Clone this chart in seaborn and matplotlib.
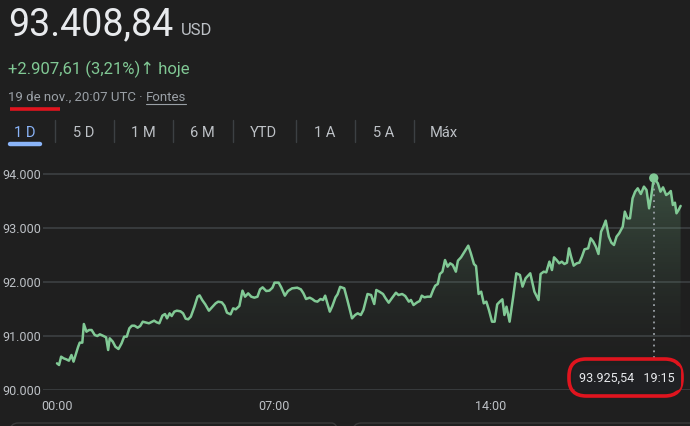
import matplotlib
matplotlib.use("Agg")
import matplotlib.pyplot as plt
import seaborn as sns
import numpy as np
from matplotlib.patches import FancyBboxPatch
from matplotlib.lines import Line2D

# ---------------- data ----------------
price_now = "93.408,84"
currency = "USD"
change_text = "+2.907,61 (3,21%)\u2191 hoje"
date_text = "19 de nov., 20:07 UTC \u00b7 "
sources_text = "Fontes"
tabs = ["1 D", "5 D", "1 M", "6 M", "YTD", "1 A", "5 A", "M\u00e1x"]
y_ticks = [90000, 91000, 92000, 93000, 94000]
y_tick_labels = ["90.000", "91.000", "92.000", "93.000", "94.000"]
x_ticks = [0, 420, 840]
x_tick_labels = ["00:00", "07:00", "14:00"]
hover_time = 1155
hover_price = 93925.54
hover_label = "93.925,54   19:15"

# minutes since 00:00 UTC
times = [
    0, 4, 8, 13, 18, 23, 28, 32, 36, 41,
    44, 49, 52, 57, 62, 67, 73, 78, 83, 90,
    95, 99, 102, 108, 113, 119, 125, 130, 135, 140,
    145, 150, 156, 161, 166, 171, 178, 184, 188, 193,
    198, 204, 209, 213, 218, 222, 227, 232, 239, 244,
    249, 254, 259, 266, 272, 276, 281, 287, 294, 300,
    307, 312, 319, 324, 329, 336, 341, 346, 353, 359,
    364, 370, 376, 382, 388, 393, 398, 405, 411, 417,
    421, 429, 434, 441, 447, 455, 465, 472, 477, 482,
    489, 494, 499, 504, 510, 515, 519, 523, 528, 533,
    539, 543, 548, 556, 562, 571, 577, 582, 588, 593,
    601, 608, 614, 618, 624, 631, 636, 642, 648, 656,
    661, 668, 674, 681, 685, 690, 697, 702, 706, 711,
    717, 723, 728, 732, 737, 741, 746, 751, 756, 761,
    766, 772, 776, 782, 788, 796, 801, 807, 811, 816,
    821, 826, 831, 836, 842, 847, 852, 857, 862, 866,
    870, 876, 883, 889, 896, 901, 907, 916, 924, 932,
    936, 942, 947, 953, 958, 962, 967, 972, 977, 982,
    987, 991, 995, 1000, 1006, 1011, 1016, 1021, 1028, 1033,
    1038, 1043, 1048, 1053, 1057, 1062, 1068, 1073, 1078, 1083,
    1088, 1095, 1099, 1104, 1109, 1114, 1119, 1124, 1130, 1136,
    1141, 1146, 1150, 1155, 1163, 1168, 1173, 1179, 1184, 1188,
    1192, 1196, 1199, 1203, 1207,
]
prices = [
    90494, 90463, 90617, 90586, 90568, 90543, 90648, 90525, 90648, 90802,
    90877, 90877, 91222, 91080, 91111, 91111, 91019, 91000, 91031, 91000,
    90975, 90741, 90957, 90895, 90802, 90759, 90864, 90988, 90988, 91142,
    91191, 91191, 91154, 91185, 91265, 91253, 91235, 91265, 91284, 91253,
    91235, 91377, 91407, 91327, 91420, 91370, 91451, 91469, 91457, 91420,
    91321, 91309, 91358, 91543, 91728, 91753, 91667, 91586, 91469, 91531,
    91605, 91636, 91623, 91562, 91432, 91401, 91512, 91494, 91556, 91840,
    91728, 91790, 91728, 91710, 91728, 91864, 91901, 91833, 91840, 91895,
    91988, 91988, 91901, 91747, 91833, 91883, 91895, 91864, 91790, 91685,
    91710, 91685, 91648, 91636, 91685, 91667, 91747, 91617, 91451, 91556,
    91716, 91772, 91910, 91883, 91667, 91327, 91389, 91420, 91389, 91482,
    91778, 91759, 91593, 91852, 91821, 91778, 91698, 91617, 91698, 91802,
    91759, 91778, 91741, 91636, 91667, 91574, 91623, 91648, 91747, 91716,
    91728, 91728, 91852, 91932, 91963, 92148, 92191, 92407, 92284, 92346,
    92315, 92191, 92395, 92457, 92549, 92673, 92531, 92333, 92296, 91778,
    91821, 91605, 91636, 91482, 91265, 91265, 91586, 91636, 91679, 91389,
    91543, 91265, 91728, 92161, 92130, 91914, 92068, 92161, 91821, 91667,
    92148, 92191, 92179, 92377, 92222, 92457, 92407, 92346, 92377, 92333,
    92358, 92623, 92469, 92303, 92346, 92358, 92469, 92605, 92623, 92809,
    92747, 92654, 92519, 92932, 93012, 93136, 92840, 92728, 92685, 92840,
    92901, 93025, 93303, 93179, 93179, 93549, 93673, 93735, 93630, 93766,
    93704, 93364, 93580, 93925.54, 93827, 93673, 93753, 93611, 93642, 93685,
    93426, 93469, 93272, 93334, 93408.84,
]
assert len(times) == len(prices)

# ---------------- style ----------------
BG = "#1f1f1f"
GRID = "#3c4043"
GREEN = "#81c995"
GREY = "#bdc1c6"
BLUE = "#8ab4f8"
RED = "#e0141e"

sns.set_theme(style="dark")
plt.rcParams["font.family"] = ["Roboto", "DejaVu Sans"]
plt.rcParams["figure.facecolor"] = BG
plt.rcParams["axes.facecolor"] = BG

W, H = 690, 426
fig = plt.figure(figsize=(W / 100, H / 100), dpi=100)


def fx(x):
    return x / W


def fy(y):
    return 1 - y / H


# axes geometry in pixels: left 43, right 690, top 160, bottom 390
ax_left, ax_right, ax_top, ax_bottom = 43, 690, 160, 390
ax = fig.add_axes([fx(ax_left), fy(ax_bottom), (ax_right - ax_left) / W,
                   (ax_bottom - ax_top) / H])
ax.set_facecolor(BG)

px_per_min = 31.0 / 60.0
x0_px = 57
xmin = (ax_left - x0_px) / px_per_min
xmax = (ax_right - x0_px) / px_per_min
px_per_val = 54.0 / 1000.0
ymin = 90000
ymax = 90000 + (ax_bottom - ax_top) / px_per_val
ax.set_xlim(xmin, xmax)
ax.set_ylim(ymin, ymax)

# gradient fill under the line
poly = ax.fill_between(times, prices, ymin, color="none", lw=0)
grad = np.zeros((256, 1, 4))
rgb = matplotlib.colors.to_rgb(GREEN)
t = np.linspace(1, 0, 256)  # top -> bottom
grad[:, 0, 0] = rgb[0]
grad[:, 0, 1] = rgb[1]
grad[:, 0, 2] = rgb[2]
grad[:, 0, 3] = 0.32 * np.clip((t * (ymax - ymin) - 300) / (ymax - ymin - 300), 0, 1) ** 1.6
im = ax.imshow(grad, extent=[xmin, xmax, ymin, ymax], aspect="auto",
               origin="upper", zorder=1)
im.set_clip_path(poly.get_paths()[0], transform=ax.transData)

# gridlines
for v in y_ticks:
    ax.axhline(v, color=GRID, lw=1.2, zorder=0.5)

sns.lineplot(x=times, y=prices, ax=ax, color=GREEN, linewidth=1.8, zorder=3)

# hover line & marker
hover_bottom = 90000 + (390 - 358) / px_per_val
ax.vlines(hover_time, hover_bottom, hover_price, colors="#9aa0a6",
          linestyles=(0, (1, 2.2)), lw=1.3, zorder=2)
ax.scatter([hover_time], [hover_price], s=45, color=GREEN, zorder=4,
           edgecolor="none")

ax.set_yticks(y_ticks)
ax.set_yticklabels(y_tick_labels)
ax.set_xticks(x_ticks)
ax.set_xticklabels(x_tick_labels)
ax.tick_params(axis="y", length=0, pad=1, labelsize=9, labelcolor=GREY)
ax.tick_params(axis="x", length=5, width=1, color=GRID, pad=2, labelsize=9,
               labelcolor=GREY, direction="out")
ax.grid(False)
for s in ax.spines.values():
    s.set_visible(False)
ax.set_xlabel("")
ax.set_ylabel("")

# ---------------- header texts ----------------
fig.text(fx(8), fy(35), price_now, color="#e8eaed", fontsize=27,
         va="baseline", ha="left")
fig.text(fx(181), fy(35), currency, color=GREY, fontsize=12,
         va="baseline", ha="left")
fig.text(fx(8), fy(74), change_text, color=GREEN, fontsize=12,
         va="baseline", ha="left")
t1 = fig.text(fx(8), fy(101), date_text, color="#9aa0a6", fontsize=9.5,
              va="baseline", ha="left")
fig.canvas.draw()
bb = t1.get_window_extent()
t2 = fig.text(bb.x1 / W, fy(101), sources_text, color="#9aa0a6",
              fontsize=9.5, va="baseline", ha="left")
fig.canvas.draw()
bb2 = t2.get_window_extent()
fig.add_artist(Line2D([bb2.x0 / W, bb2.x1 / W], [fy(104), fy(104)],
                      color="#9aa0a6", lw=0.8))
# red annotation underline
fig.add_artist(Line2D([fx(10), fx(60)], [fy(108.5), fy(108.5)],
                      color=RED, lw=2.6, solid_capstyle="butt"))

# tabs
tab_x = [25, 84, 143, 202, 263, 325, 384, 444]
for i, (lab, x) in enumerate(zip(tabs, tab_x)):
    fig.text(fx(x), fy(137), lab, color=BLUE if i == 0 else GREY,
             fontsize=10.5, ha="center", va="baseline")
for x in [55, 114, 173, 233, 296, 355, 414]:
    fig.add_artist(Line2D([fx(x), fx(x)], [fy(120), fy(142)],
                          color=GRID, lw=1))
fig.add_artist(Line2D([fx(10), fx(40)], [fy(143.5), fy(143.5)],
                      color=BLUE, lw=3.2, solid_capstyle="round"))

# hover label box
fig.text(fx(627), fy(378), hover_label, color="#e8eaed", fontsize=9,
         ha="center", va="center",
         bbox=dict(boxstyle="round,pad=0.5", fc="#202124", ec="none"))
fig.add_artist(FancyBboxPatch((fx(569), fy(396)), fx(682 - 569),
                              (396 - 359) / H,
                              boxstyle="round,pad=0,rounding_size=0.025",
                              fc="none", ec=RED, lw=2.6,
                              transform=fig.transFigure,
                              mutation_aspect=W / H))

# faint boxes at bottom edge
fig.add_artist(FancyBboxPatch((fx(10), fy(460)), fx(330), 37 / H,
                              boxstyle="round,pad=0,rounding_size=0.012",
                              fc="none", ec="#3a3a3a", lw=1,
                              transform=fig.transFigure,
                              mutation_aspect=W / H))
fig.add_artist(FancyBboxPatch((fx(353), fy(460)), fx(345), 37 / H,
                              boxstyle="round,pad=0,rounding_size=0.012",
                              fc="none", ec="#3a3a3a", lw=1,
                              transform=fig.transFigure,
                              mutation_aspect=W / H))

fig.savefig("out.png", dpi=100, facecolor=BG)
